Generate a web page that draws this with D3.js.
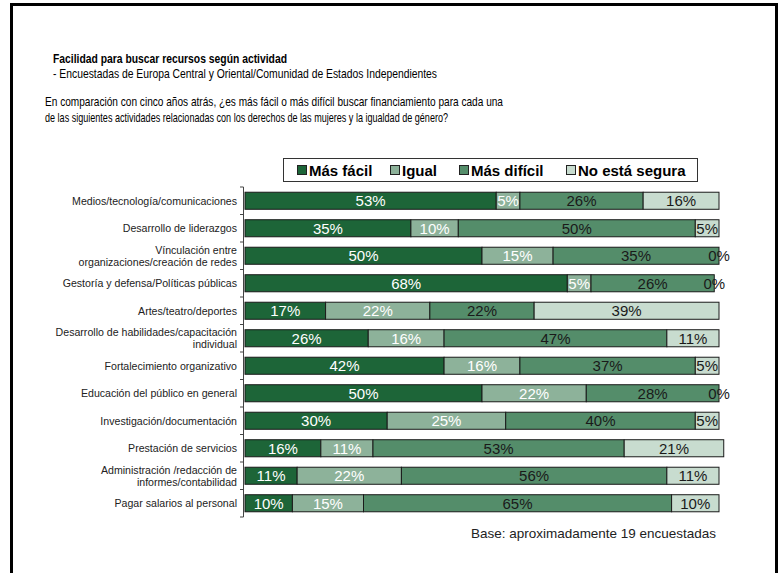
<!DOCTYPE html>
<html><head><meta charset="utf-8">
<script src="https://cdn.jsdelivr.net/npm/d3@7"></script>
<style>
body{margin:0;background:#fff;}
svg{display:block;font-family:"Liberation Sans",Arial,sans-serif;}
</style></head>
<body><svg id="c" width="779" height="573"></svg>
<script>
const categories = [
  ["Medios/tecnología/comunicaciones"],
  ["Desarrollo de liderazgos"],
  ["Vínculación entre","organizaciones/creación de redes"],
  ["Gestoría y defensa/Políticas públicas"],
  ["Artes/teatro/deportes"],
  ["Desarrollo de habilidades/capacitación","individual"],
  ["Fortalecimiento organizativo"],
  ["Educación del público en general"],
  ["Investigación/documentación"],
  ["Prestación de servicios"],
  ["Administración /redacción de","informes/contabilidad"],
  ["Pagar salarios al personal"]
];
const seriesNames = ["Más fácil","Igual","Más difícil","No está segura"];
const masFacil   = [53,35,50,68,17,26,42,50,30,16,11,10];
const igual      = [5,10,15,5,22,16,16,22,25,11,22,15];
const masDificil = [26,50,35,26,22,47,37,28,40,53,56,65];
const noSegura   = [16,5,0,0,39,11,5,0,5,21,11,10];
const colors = ["#1d6538","#8db29a","#548d6a","#c8dccf"];
const labelColors = ["#ffffff","#ffffff","#1a1a1a","#1a1a1a"];

const svg = d3.select("#c");
const series = [masFacil, igual, masDificil, noSegura];
const keys = categories.map(c => c.join(" "));

// frame
svg.append("path").attr("d","M11.5,573V4.5H776.5V573").attr("fill","none").attr("stroke","#000").attr("stroke-width",3);

// headings
function txt(x,y,s,size,weight,len){
  const t = svg.append("text").attr("x",x).attr("y",y).text(s)
    .attr("font-size",size).attr("font-weight",weight||"normal").attr("fill","#000");
  if(len) t.attr("textLength",len).attr("lengthAdjust","spacingAndGlyphs");
  return t;
}
txt(53,62.5,"Facilidad para buscar recursos según actividad",13.2,"bold",234);
txt(53,78,"- Encuestadas de Europa Central y Oriental/Comunidad de Estados Independientes",13.2,"normal",384);
txt(45,106,"En comparación con cinco años atrás, ¿es más fácil o más difícil buscar financiamiento para cada una",13,"normal",458);
txt(45,121.5,"de las siguientes actividades relacionadas con los derechos de las mujeres y la igualdad de género?",13,"normal",403);

// scales
const x = d3.scaleLinear().domain([0,100]).range([245,719]);
const y = d3.scaleBand().domain(keys).range([187,517]).paddingInner(0.38).paddingOuter(0.19);

// stacked data
const rows = keys.map((k,i)=>{ const o={key:k}; seriesNames.forEach((s,j)=>o[s]=series[j][i]); return o;});
const stack = d3.stack().keys(seriesNames)(rows);

stack.forEach((layer,j)=>{
  const g = svg.append("g");
  g.selectAll("rect").data(layer).join("rect")
    .attr("x",d=>x(d[0])).attr("y",d=>y(d.data.key))
    .attr("width",d=>Math.max(0,x(d[1])-x(d[0]))).attr("height",y.bandwidth())
    .attr("fill",colors[j]).attr("stroke",d=>(d[1]-d[0])>0?"#1a1a1a":"none").attr("stroke-width",1);
});
stack.forEach((layer,j)=>{
  svg.append("g").selectAll("text").data(layer).join("text")
    .attr("x",d=>(x(d[0])+x(d[1]))/2).attr("y",d=>y(d.data.key)+y.bandwidth()/2+5.3)
    .attr("text-anchor","middle").attr("font-size",15)
    .attr("fill",d=>(d[1]-d[0])>0?labelColors[j]:"#1a1a1a")
    .text(d=>(d[1]-d[0])+"%");
});

// axis
const ax = svg.append("g").attr("transform","translate(243.5,0)")
  .call(d3.axisLeft(y).tickSize(0).tickFormat(""));
ax.select(".domain").attr("stroke","#444").attr("d","M0,187V517");
const step = y.step();
const bounds = d3.range(keys.length+1).map(i=>y.range()[0]+i*step);
svg.append("g").selectAll("line").data(bounds).join("line")
  .attr("x1",240).attr("x2",243.5).attr("y1",d=>d).attr("y2",d=>d).attr("stroke","#444");

// category labels
categories.forEach((lines,i)=>{
  const cy = y(keys[i])+y.bandwidth()/2;
  const t = svg.append("text").attr("text-anchor","end").attr("font-size",10.6).attr("fill","#222");
  lines.forEach((ln,k)=>{
    t.append("tspan").attr("x",237).attr("y",cy+3.8+(k-(lines.length-1)/2)*12).text(ln);
  });
});

// legend
svg.append("rect").attr("x",283.5).attr("y",158.5).attr("width",414).attr("height",23).attr("fill","#fff").attr("stroke","#333");
const legX = [297,390,459,566];
seriesNames.forEach((s,j)=>{
  svg.append("rect").attr("x",legX[j]+0.5).attr("y",165.5).attr("width",9).attr("height",9).attr("fill",colors[j]).attr("stroke","#222");
  svg.append("text").attr("x",legX[j]+12).attr("y",175.5).attr("font-size",15).attr("font-weight","bold").attr("fill","#000").text(s);
});

// base note
txt(716,538,"Base: aproximadamente 19 encuestadas",13,"normal",245).attr("text-anchor","end").attr("fill","#222");
</script></body></html>
